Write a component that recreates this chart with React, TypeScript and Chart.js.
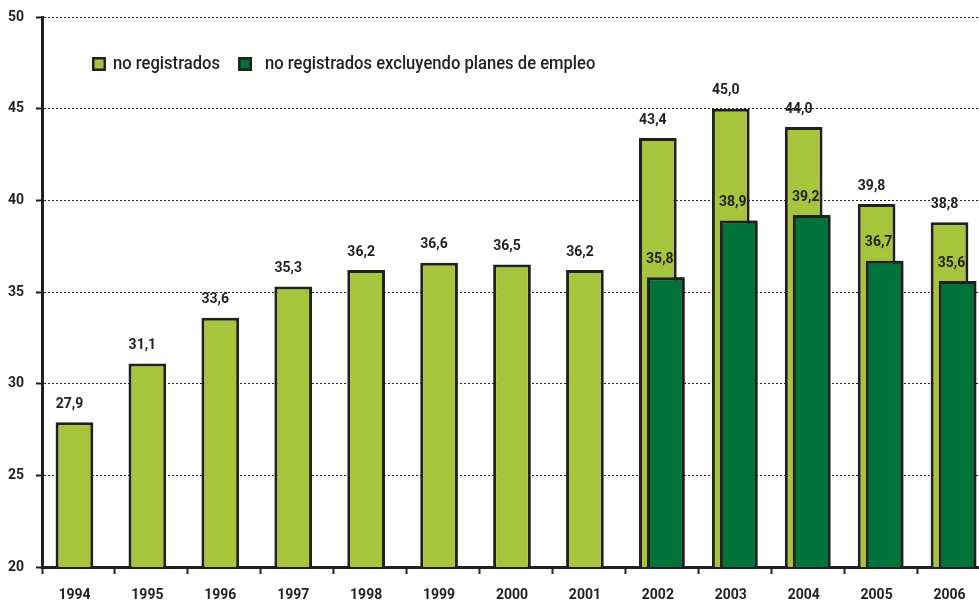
import React, { useEffect, useRef } from "react";
import { Chart, registerables } from "chart.js";

Chart.register(...registerables);

const years = ["1994", "1995", "1996", "1997", "1998", "1999", "2000", "2001", "2002", "2003", "2004", "2005", "2006"];
const noRegistrados = [27.9, 31.1, 33.6, 35.3, 36.2, 36.6, 36.5, 36.2, 43.4, 45.0, 44.0, 39.8, 38.8];
const noRegistradosExcl = [null, null, null, null, null, null, null, null, 35.8, 38.9, 39.2, 36.7, 35.6];
const seriesLabels = ["no registrados", "no registrados excluyendo planes de empleo"];
const yTicks = [20, 25, 30, 35, 40, 45, 50];

const LIGHT = "#a7c53c";
const DARK = "#00733b";
const INK = "#231f20";
const FONT = "Roboto, 'Liberation Sans', sans-serif";

const fmt = (v: number) => v.toFixed(1).replace(".", ",");

const darkOnTop = {
  id: "darkOnTop",
  afterDatasetsDraw(chart: any) {
    const meta = chart.getDatasetMeta(1);
    if (!meta || !meta.controller) return;
    const { ctx, chartArea: a } = chart;
    ctx.save();
    ctx.beginPath();
    ctx.rect(a.left, a.top, a.right - a.left, a.bottom - a.top);
    ctx.clip();
    meta.controller.draw();
    ctx.restore();
  },
};

const valueLabels = {
  id: "valueLabels",
  afterDatasetsDraw(chart: any) {
    const ctx = chart.ctx;
    ctx.save();
    ctx.font = `bold 14px ${FONT}`;
    ctx.fillStyle = INK;
    ctx.textAlign = "center";
    ctx.textBaseline = "middle";
    chart.data.datasets.forEach((ds: any, di: number) => {
      const meta = chart.getDatasetMeta(di);
      meta.data.forEach((el: any, i: number) => {
        const v = ds.data[i];
        if (v === null || v === undefined) return;
        const dx = di === 0 ? -5 : -6;
        ctx.fillText(fmt(v), el.x + dx, el.y - 18);
      });
    });
    ctx.restore();
  },
};

const customLegend = {
  id: "customLegend",
  afterDraw(chart: any) {
    const ctx = chart.ctx;
    const items = [
      { box: 92, text: 113, color: LIGHT, label: chart.data.datasets[0].label },
      { box: 238, text: 265, color: DARK, label: chart.data.datasets[1].label },
    ];
    const y = 64;
    ctx.save();
    ctx.font = `500 18px ${FONT}`;
    ctx.textBaseline = "middle";
    ctx.textAlign = "left";
    const sx = 107 / ctx.measureText(items[0].label).width;
    items.forEach((it) => {
      ctx.fillStyle = it.color;
      ctx.fillRect(it.box, y - 7, 14, 14);
      ctx.strokeStyle = INK;
      ctx.lineWidth = 2.5;
      ctx.strokeRect(it.box + 1.25, y - 7 + 1.25, 11.5, 11.5);
      ctx.fillStyle = INK;
      ctx.save();
      ctx.translate(it.text, y);
      ctx.scale(sx, 1);
      ctx.fillText(it.label, 0, 0);
      ctx.restore();
    });
    ctx.restore();
  },
};

export default function App() {
  const ref = useRef<HTMLCanvasElement | null>(null);

  useEffect(() => {
    if (!ref.current) return;
    const chart = new Chart(ref.current, {
      type: "bar",
      data: {
        labels: years,
        datasets: [
          {
            label: seriesLabels[0],
            data: noRegistrados,
            backgroundColor: LIGHT,
            borderColor: INK,
            borderWidth: 3,
            borderSkipped: false,
          },
          {
            label: seriesLabels[1],
            data: noRegistradosExcl as any,
            backgroundColor: DARK,
            borderColor: INK,
            borderWidth: 3,
            borderSkipped: false,
          },
        ],
      },
      options: {
        animation: false,
        responsive: false,
        maintainAspectRatio: false,
        categoryPercentage: 0.22,
        barPercentage: 4.7,
        layout: { padding: { top: 17, right: 10, left: 0, bottom: 0 } },
        plugins: {
          legend: { display: false },
          tooltip: { enabled: false },
        },
        scales: {
          x: {
            offset: true,
            grid: {
              offset: true,
              drawOnChartArea: false,
              drawTicks: true,
              tickLength: 7,
              tickWidth: 2,
              tickColor: INK,
              color: INK,
            },
            border: { display: true, width: 3, color: INK },
            ticks: {
              color: INK,
              padding: 13,
              labelOffset: -4,
              font: { family: FONT, size: 14, weight: "bold" },
              maxRotation: 0,
              autoSkip: false,
            },
            afterFit: (scale: any) => {
              scale.height = 35;
              scale.paddingLeft = 0;
              scale.paddingRight = 0;
            },
          },
          y: {
            min: yTicks[0],
            max: yTicks[yTicks.length - 1],
            afterBuildTicks: (scale: any) => {
              scale.ticks = yTicks.map((v) => ({ value: v }));
            },
            ticks: {
              color: INK,
              padding: 12,
              font: { family: FONT, size: 14, weight: "bold" },
            },
            grid: {
              color: INK,
              lineWidth: 1,
              tickLength: 6,
              tickWidth: 2,
              tickColor: INK,
              tickBorderDash: [],
            },
            border: { display: true, width: 3, color: INK, dash: [2, 2] },
            afterFit: (scale: any) => {
              scale.width = 42;
              scale.paddingTop = 0;
              scale.paddingBottom = 0;
            },
          },
        },
      } as any,
      plugins: [darkOnTop, valueLabels, customLegend],
    });
    return () => chart.destroy();
  }, []);

  return (
    <div style={{ position: "absolute", left: 0, top: 0, width: 979, height: 602, overflow: "hidden", background: "#fff" }}>
      <canvas ref={ref} width={1000} height={602} style={{ width: 1000, height: 602, display: "block" }} />
    </div>
  );
}
